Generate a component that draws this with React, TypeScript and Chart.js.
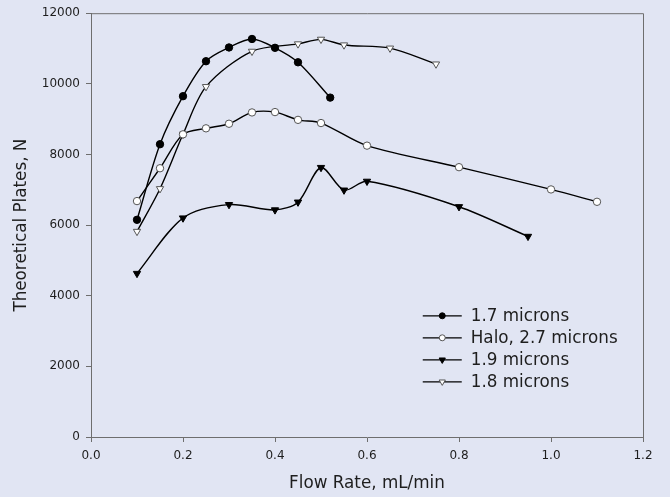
import React, { useEffect, useRef } from 'react';
import { Chart, registerables } from 'chart.js';

Chart.register(...registerables);

const seriesNames = ['1.7 microns', 'Halo, 2.7 microns', '1.9 microns', '1.8 microns'];

const flow17 = [0.1, 0.15, 0.2, 0.25, 0.3, 0.35, 0.4, 0.45, 0.52];
const plates17 = [6150, 8290, 9650, 10640, 11030, 11270, 11020, 10610, 9610];

const flowHalo = [0.1, 0.15, 0.2, 0.25, 0.3, 0.35, 0.4, 0.45, 0.5, 0.6, 0.8, 1.0, 1.1];
const platesHalo = [6680, 7610, 8570, 8740, 8870, 9190, 9200, 8980, 8890, 8250, 7640, 7010, 6660];

const flow19 = [0.1, 0.2, 0.3, 0.4, 0.45, 0.5, 0.55, 0.6, 0.8, 0.95];
const plates19 = [4630, 6200, 6580, 6430, 6650, 7630, 6990, 7240, 6520, 5680];

const flow18 = [0.1, 0.15, 0.2, 0.25, 0.35, 0.45, 0.5, 0.55, 0.65, 0.75];
const plates18 = [5820, 7030, 8570, 9920, 10920, 11130, 11260, 11100, 11010, 10560];

const yTickValues = [0, 2000, 4000, 6000, 8000, 10000, 12000];
const xTickValues = [0, 0.2, 0.4, 0.6, 0.8, 1.0, 1.2];

const BG = 'rgb(225,229,243)';
const AXIS = '#6e6e6e';
const TEXT = '#1e1e1e';
const FONT = "'DejaVu Sans', Verdana, sans-serif";

type Marker = { style: 'circle' | 'triangle'; filled: boolean };
const markers: Marker[] = [
  { style: 'circle', filled: true },
  { style: 'circle', filled: false },
  { style: 'triangle', filled: true },
  { style: 'triangle', filled: false },
];

function zip(xs: number[], ys: number[]) {
  return xs.map((x, i) => ({ x, y: ys[i] }));
}

function drawMarker(ctx: CanvasRenderingContext2D, m: Marker, x: number, y: number, r: number) {
  ctx.save();
  ctx.beginPath();
  if (m.style === 'circle') {
    ctx.arc(x, y, r, 0, Math.PI * 2);
  } else {
    ctx.moveTo(x, y + r);
    ctx.lineTo(x + r * Math.sin(Math.PI * 2 / 3), y - r / 2);
    ctx.lineTo(x - r * Math.sin(Math.PI * 2 / 3), y - r / 2);
    ctx.closePath();
  }
  ctx.fillStyle = m.filled ? '#000' : '#fff';
  ctx.fill();
  ctx.lineWidth = 1;
  ctx.strokeStyle = m.filled ? '#000' : '#555';
  ctx.stroke();
  ctx.restore();
}

export default function App() {
  const ref = useRef<HTMLCanvasElement>(null);

  useEffect(() => {
    document.body.style.margin = '0';
    const canvas = ref.current;
    if (!canvas) return;

    const series = [
      zip(flow17, plates17),
      zip(flowHalo, platesHalo),
      zip(flow19, plates19),
      zip(flow18, plates18),
    ];

    const datasets = series.map((data, i) => {
      const m = markers[i];
      return {
        label: seriesNames[i],
        data,
        showLine: true,
        tension: 0.3,
        borderColor: '#000',
        borderWidth: 1.4,
        pointStyle: m.style,
        rotation: m.style === 'triangle' ? 180 : 0,
        pointRadius: m.style === 'triangle' ? 4.2 : 3.7,
        pointBorderWidth: 1,
        pointBackgroundColor: m.filled ? '#000' : '#fff',
        pointBorderColor: m.filled ? '#000' : '#555',
      };
    });

    const bgPlugin = {
      id: 'bg',
      beforeDraw(chart: any) {
        const { ctx, width, height } = chart;
        ctx.save();
        ctx.fillStyle = BG;
        ctx.fillRect(0, 0, width, height);
        ctx.restore();
      },
    };

    const framePlugin = {
      id: 'frame',
      beforeDatasetsDraw(chart: any) {
        const { ctx, chartArea: a } = chart;
        ctx.save();
        ctx.strokeStyle = AXIS;
        ctx.lineWidth = 1;
        ctx.beginPath();
        ctx.moveTo(a.left, a.top + 0.5);
        ctx.lineTo(a.right + 0.5, a.top + 0.5);
        ctx.lineTo(a.right + 0.5, a.bottom);
        ctx.stroke();
        ctx.restore();
      },
    };

    const legendPlugin = {
      id: 'customLegend',
      afterDraw(chart: any) {
        const { ctx, chartArea: a } = chart;
        const x0 = a.left + (a.right - a.left) * 0.601;
        const lineLen = 39;
        const y0 = a.top + (a.bottom - a.top) * 0.714;
        const rowH = 22;
        ctx.save();
        ctx.font = `16.8px ${FONT}`;
        ctx.textBaseline = 'middle';
        ctx.fillStyle = TEXT;
        seriesNames.forEach((name, i) => {
          const y = y0 + i * rowH;
          ctx.beginPath();
          ctx.strokeStyle = '#000';
          ctx.lineWidth = 1.2;
          ctx.moveTo(x0, y);
          ctx.lineTo(x0 + lineLen, y);
          ctx.stroke();
          const m = markers[i];
          drawMarker(ctx, m, x0 + lineLen / 2, y, m.style === 'triangle' ? 3.6 : 3);
          ctx.fillStyle = TEXT;
          ctx.fillText(name, x0 + lineLen + 9, y + 1);
        });
        ctx.restore();
      },
    };

    const chart = new Chart(canvas, {
      type: 'scatter',
      data: { datasets: datasets as any },
      options: {
        responsive: false,
        animation: false,
        maintainAspectRatio: false,
        layout: { padding: { left: 0, right: 27, top: 11, bottom: 0 } },
        plugins: {
          legend: { display: false },
          tooltip: { enabled: false },
        },
        scales: {
          x: {
            type: 'linear',
            min: 0,
            max: 1.2,
            afterFit: (s: any) => { s.height = 60; },
            afterBuildTicks: (s: any) => { s.ticks = xTickValues.map((v) => ({ value: v })); },
            grid: { drawOnChartArea: false, drawTicks: true, tickLength: 5, color: AXIS },
            border: { color: AXIS, width: 1 },
            ticks: {
              padding: 7,
              color: TEXT,
              font: { family: FONT, size: 12 },
              callback: (v: any) => Number(v).toFixed(1),
            },
            title: {
              display: true,
              text: 'Flow Rate, mL/min',
              color: TEXT,
              font: { family: FONT, size: 16.8 },
              padding: { top: 0, bottom: 3 },
            },
          },
          y: {
            type: 'linear',
            min: 0,
            max: 12000,
            afterFit: (s: any) => { s.width = 91; },
            afterBuildTicks: (s: any) => { s.ticks = yTickValues.map((v) => ({ value: v })); },
            grid: { drawOnChartArea: false, drawTicks: true, tickLength: 5, color: AXIS },
            border: { color: AXIS, width: 1 },
            ticks: {
              padding: 6,
              color: TEXT,
              font: { family: FONT, size: 12 },
              callback: (v: any) => String(v),
            },
            title: {
              display: true,
              text: 'Theoretical Plates, N',
              color: TEXT,
              font: { family: FONT, size: 16.8 },
              padding: { top: 12, bottom: 0 },
            },
          },
        },
      },
      plugins: [bgPlugin, framePlugin, legendPlugin],
    });

    return () => chart.destroy();
  }, []);

  return (
    <div style={{ width: 670, height: 497, background: BG }}>
      <canvas ref={ref} width={670} height={497} style={{ display: 'block' }} />
    </div>
  );
}
